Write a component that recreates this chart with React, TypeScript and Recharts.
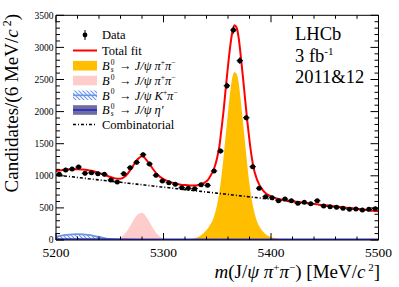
import { ComposedChart, Area, Line, Scatter, ErrorBar, XAxis, YAxis } from 'recharts'

const SERIF = '"Liberation Serif", "DejaVu Serif", serif'

// 6 MeV bins: centres and candidate counts
const binCenters = [
  5203, 5209, 5215, 5221, 5227, 5233, 5239, 5245, 5251, 5257,
  5263, 5269, 5275, 5281, 5287, 5293, 5299, 5305, 5311, 5317,
  5323, 5329, 5335, 5341, 5347, 5353, 5359, 5365, 5371, 5377,
  5383, 5389, 5395, 5401, 5407, 5413, 5419, 5425, 5431, 5437,
  5443, 5449, 5455, 5461, 5467, 5473, 5479, 5485, 5491, 5497,
]
const counts = [
  1023, 1090, 1106, 1137, 1039, 1048, 1033, 1023, 935, 903,
  1033, 1126, 1210, 1329, 1184, 1008, 919, 893, 868, 815,
  805, 800, 861, 851, 1075, 1386, 2403, 3271, 2793, 1905,
  1142, 805, 675, 659, 612, 639, 612, 571, 587, 565,
  612, 530, 519, 509, 494, 478, 483, 467, 478, 488,
]

// fit curves
const massGrid = [
  5200, 5205, 5210, 5215, 5220, 5225, 5230, 5235, 5240, 5245,
  5250, 5255, 5260, 5265, 5270, 5275, 5280, 5285, 5290, 5295,
  5300, 5305, 5310, 5315, 5320, 5325, 5330, 5335, 5340,
  5342, 5344, 5346, 5348, 5350, 5352, 5354, 5356, 5358, 5360,
  5362, 5364, 5366, 5368, 5370, 5372, 5374, 5376, 5378, 5380,
  5382, 5384, 5386, 5388, 5390, 5392,
  5395, 5400, 5405, 5410, 5415, 5420, 5425, 5430, 5435, 5440,
  5445, 5450, 5455, 5460, 5465, 5470, 5475, 5480, 5485, 5490, 5495, 5500,
]
const totalFit = [
  1075, 1088, 1097, 1102, 1103, 1098, 1087, 1070, 1045, 1015,
  985, 960, 955, 1000, 1110, 1240, 1305, 1230, 1110, 1010,
  950, 910, 885, 866, 855, 850, 850, 868, 915,
  950, 1010, 1070, 1160, 1290, 1460, 1740, 2030, 2380, 2710,
  3010, 3235, 3345, 3310, 3140, 2845, 2520, 2180, 1845, 1550,
  1300, 1110, 990, 900, 835, 785,
  730, 680, 648, 628, 615, 603, 592, 582, 571, 561,
  551, 542, 532, 522, 513, 503, 494, 484, 474, 465, 455, 446,
]
const combinatorial = [
  1012, 1003, 993, 984, 974, 965, 955, 946, 936, 927,
  918, 908, 899, 889, 880, 870, 861, 851, 842, 832,
  823, 814, 804, 795, 785, 776, 766, 757, 747,
  744, 740, 736, 733, 729, 725, 721, 717, 714, 710,
  706, 702, 699, 695, 691, 687, 684, 680, 676, 672,
  668, 664, 661, 657, 653, 649,
  644, 634, 625, 615, 606, 596, 587, 577, 568, 558,
  549, 540, 530, 521, 511, 502, 492, 483, 473, 464, 454, 445,
]
const bsPiPi = [
  0, 0, 0, 0, 0, 0, 0, 0, 0, 0,
  0, 0, 0, 0, 0, 0, 0, 0, 0, 0,
  1, 2, 3, 5, 8, 15, 30, 75, 155,
  200, 255, 320, 420, 560, 750, 1010, 1310, 1660, 1990,
  2300, 2530, 2615, 2590, 2440, 2150, 1830, 1490, 1160, 870,
  640, 470, 340, 250, 185, 140,
  90, 45, 22, 12, 8, 5, 4, 3, 2, 2,
  1, 1, 0, 0, 0, 0, 0, 0, 0, 0, 0, 0,
]
const b0PiPiMass = [5250, 5255, 5260, 5265, 5270, 5275, 5280, 5285, 5290, 5295, 5300, 5305, 5310, 5315]
const b0PiPi = [0, 10, 39, 116, 249, 383, 423, 336, 191, 78, 23, 5, 1, 0]
const b0KPiMass = [5200, 5205, 5210, 5215, 5220, 5225, 5230, 5235, 5240, 5245, 5250, 5255, 5260, 5265]
const b0KPi = [52, 68, 80, 88, 91, 88, 80, 66, 48, 28, 12, 4, 1, 0]
const bsEtaMass = [5200, 5250, 5300, 5350, 5400, 5450, 5500]
const bsEta = [14, 14, 13, 13, 12, 12, 11]

const massTicks = [5200, 5220, 5240, 5260, 5280, 5300, 5320, 5340, 5360, 5380, 5400, 5420, 5440, 5460, 5480, 5500]
const massLabels = [5200, 5300, 5400, 5500]
const countTicks = [
  0, 100, 200, 300, 400, 500, 600, 700, 800, 900, 1000, 1100, 1200, 1300, 1400, 1500, 1600, 1700,
  1800, 1900, 2000, 2100, 2200, 2300, 2400, 2500, 2600, 2700, 2800, 2900, 3000, 3100, 3200, 3300, 3400, 3500,
]
const countLabels = [0, 500, 1000, 1500, 2000, 2500, 3000, 3500]

const points = binCenters.map((m, i) => ({ m, n: counts[i], ey: Math.sqrt(counts[i]), ex: 3 }))

function pick(mass: number[], vals: number[], m: number) {
  const i = mass.indexOf(m)
  return i < 0 ? null : vals[i]
}

const curves = massGrid.map((m, i) => ({
  m,
  total: totalFit[i],
  comb: combinatorial[i],
  bs: bsPiPi[i],
  b0: pick(b0PiPiMass, b0PiPi, m),
  kpi: pick(b0KPiMass, b0KPi, m),
  eta: pick(bsEtaMass, bsEta, m),
}))

const YELLOW = '#ffbf00'
const PINK = '#ffcccc'
const HATCH = '#6b95e6'
const ETA_FILL = '#6e6ea0'
const ETA_LINE = '#3434c0'

const tickFont = { fontFamily: SERIF }

// inward ROOT-style ticks
function LeftTick({ x, y, payload }: any) {
  const major = countLabels.includes(payload.value)
  return (
    <g>
      <line x1={x} x2={x + (major ? 8 : 4)} y1={y} y2={y} stroke="#000" />
      {major && (
        <text x={x - 2.5} y={y + 3.3} textAnchor="end" fontSize={9.5} style={tickFont} fill="#000">
          {payload.value}
        </text>
      )}
    </g>
  )
}

function RightTick({ x, y, payload }: any) {
  const major = countLabels.includes(payload.value)
  return <line x1={x} x2={x - (major ? 8 : 4)} y1={y} y2={y} stroke="#000" />
}

function BottomTick({ x, y, payload }: any) {
  const major = massLabels.includes(payload.value)
  return (
    <g>
      <line x1={x} x2={x} y1={y} y2={y - (major ? 7 : 3.5)} stroke="#000" />
      {major && (
        <text x={x} y={y + 17} textAnchor="middle" fontSize={13.5} style={tickFont} fill="#000">
          {payload.value}
        </text>
      )}
    </g>
  )
}

function TopTick({ x, y, payload }: any) {
  const major = massLabels.includes(payload.value)
  return <line x1={x} x2={x} y1={y} y2={y + (major ? 7 : 3.5)} stroke="#000" />
}

function Overlay() {
  const fs = 12.5
  const sup = 7.5
  const tx = 102
  const rows = [35, 50.5, 65.7, 80.5, 95.3, 110, 124.5]
  const b = (c: number) => c + 4.3
  return (
    <svg width={399} height={287} style={{ position: 'absolute', left: 0, top: 0, pointerEvents: 'none', fontFamily: SERIF }}
      fill="#000">
      <defs>
        <pattern id="hatchLeg" width={4} height={4} patternUnits="userSpaceOnUse">
          <path d="M-1,-1 L5,5 M3,-1 L5,1 M-1,3 L1,5" stroke={HATCH} strokeWidth={1.1} />
        </pattern>
      </defs>

      {/* legend symbols */}
      <line x1={85} x2={85} y1={rows[0] - 5} y2={rows[0] + 5} stroke="#000" strokeWidth={1} />
      <circle cx={85} cy={rows[0]} r={2.4} fill="#000" />
      <line x1={73} x2={97} y1={rows[1]} y2={rows[1]} stroke="#ff0000" strokeWidth={2} />
      <rect x={73} y={rows[2] - 4.8} width={24} height={9.6} fill={YELLOW} />
      <rect x={73} y={rows[3] - 4.8} width={24} height={9.6} fill={PINK} />
      <rect x={73} y={rows[4] - 4.8} width={24} height={9.6} fill="url(#hatchLeg)" />
      <line x1={73} x2={97} y1={rows[4]} y2={rows[4]} stroke={HATCH} strokeWidth={1.6} />
      <rect x={73} y={rows[5] - 4.8} width={24} height={9.6} fill={ETA_FILL} />
      <line x1={73} x2={97} y1={rows[5]} y2={rows[5]} stroke={ETA_LINE} strokeWidth={2} />
      <line x1={73} x2={97} y1={rows[6]} y2={rows[6]} stroke="#000" strokeWidth={1.6} strokeDasharray="3 2 1 2" />

      {/* legend text */}
      <text x={tx} y={b(rows[0])} fontSize={fs}>Data</text>
      <text x={tx} y={b(rows[1])} fontSize={fs}>Total fit</text>

      <text x={tx} y={b(rows[2])} fontSize={fs} fontStyle="italic">B</text>
      <text x={tx + 8.7} y={b(rows[2]) - 5.5} fontSize={sup}>0</text>
      <text x={tx + 8.7} y={b(rows[2]) + 2} fontSize={sup} fontStyle="italic">s</text>
      <text x={tx + 17} y={b(rows[2])} fontSize={fs}>
        {'→ '}<tspan fontStyle="italic">J/ψ π</tspan>
        <tspan dy={-5} fontSize={sup}>+</tspan>
        <tspan dy={5} fontStyle="italic">π</tspan>
        <tspan dy={-5} fontSize={sup}>−</tspan>
      </text>

      <text x={tx} y={b(rows[3])} fontSize={fs} fontStyle="italic">B</text>
      <text x={tx + 8.7} y={b(rows[3]) - 5} fontSize={sup}>0</text>
      <text x={tx + 17} y={b(rows[3])} fontSize={fs}>
        {'→ '}<tspan fontStyle="italic">J/ψ π</tspan>
        <tspan dy={-5} fontSize={sup}>+</tspan>
        <tspan dy={5} fontStyle="italic">π</tspan>
        <tspan dy={-5} fontSize={sup}>−</tspan>
      </text>

      <text x={tx} y={b(rows[4])} fontSize={fs} fontStyle="italic">B</text>
      <text x={tx + 8.7} y={b(rows[4]) - 5.5} fontSize={sup}>0</text>
      <text x={tx + 17} y={b(rows[4])} fontSize={fs}>
        {'→ '}<tspan fontStyle="italic">J/ψ K</tspan>
        <tspan dy={-5} fontSize={sup}>+</tspan>
        <tspan dy={5} fontStyle="italic">π</tspan>
        <tspan dy={-5} fontSize={sup}>−</tspan>
      </text>

      <text x={tx} y={b(rows[5])} fontSize={fs} fontStyle="italic">B</text>
      <text x={tx + 8.7} y={b(rows[5]) - 5.5} fontSize={sup}>0</text>
      <text x={tx + 8.7} y={b(rows[5]) + 2} fontSize={sup} fontStyle="italic">s</text>
      <text x={tx + 17} y={b(rows[5])} fontSize={fs}>
        {'→ '}<tspan fontStyle="italic">J/ψ η′</tspan>
      </text>

      <text x={tx} y={b(rows[6]) + 0.5} fontSize={fs}>Combinatorial</text>

      {/* experiment label */}
      <text x={295} y={40} fontSize={18.5}>LHCb</text>
      <text x={295} y={62} fontSize={18.5}>
        3 fb<tspan dy={-7} fontSize={11}>-1</tspan>
      </text>
      <text x={295} y={83} fontSize={18.5}>2011&amp;12</text>

      {/* axis titles */}
      <text transform="translate(17.5,14) rotate(-90)" textAnchor="end" fontSize={19}>
        Candidates/(6 MeV/<tspan fontStyle="italic">c</tspan>
        <tspan dy={-7} fontSize={12}> 2</tspan>
        <tspan dy={7}>)</tspan>
      </text>
      <text x={380} y={278} textAnchor="end" fontSize={19}>
        <tspan fontStyle="italic">m</tspan>(J/<tspan fontStyle="italic">ψ π</tspan>
        <tspan dy={-7} fontSize={11}>+</tspan>
        <tspan dy={7} fontStyle="italic">π</tspan>
        <tspan dy={-7} fontSize={11}>−</tspan>
        <tspan dy={7}>) [MeV/</tspan>
        <tspan fontStyle="italic">c</tspan>
        <tspan dy={-7} fontSize={11}> 2</tspan>
        <tspan dy={7}>]</tspan>
      </text>
    </svg>
  )
}

export default function App() {
  return (
    <div style={{ position: 'absolute', left: 0, top: 0, width: 399, height: 287, background: '#fff' }}>
      <ComposedChart
        width={399}
        height={287}
        data={curves}
        margin={{ top: 14.3, right: 19.5, bottom: 46, left: 55 }}
      >
        <defs>
          <pattern id="hatchKpi" width={4} height={4} patternUnits="userSpaceOnUse">
            <path d="M-1,-1 L5,5 M3,-1 L5,1 M-1,3 L1,5" stroke={HATCH} strokeWidth={1.1} />
          </pattern>
        </defs>
        <XAxis
          dataKey="m"
          type="number"
          domain={[5200, 5500]}
          allowDataOverflow
          ticks={massTicks}
          interval={0}
          height={1}
          tickSize={0}
          tickMargin={0}
          tickLine={false}
          axisLine={{ stroke: '#000' }}
          tick={BottomTick}
        />
        <XAxis
          xAxisId="top"
          orientation="top"
          dataKey="m"
          type="number"
          domain={[5200, 5500]}
          allowDataOverflow
          ticks={massTicks}
          interval={0}
          height={1}
          tickSize={0}
          tickMargin={0}
          tickLine={false}
          axisLine={{ stroke: '#000' }}
          tick={TopTick}
        />
        <YAxis
          type="number"
          domain={[0, 3500]}
          allowDataOverflow
          ticks={countTicks}
          interval={0}
          width={1}
          tickSize={0}
          tickMargin={0}
          tickLine={false}
          axisLine={{ stroke: '#000' }}
          tick={LeftTick}
        />
        <YAxis
          yAxisId="right"
          orientation="right"
          type="number"
          domain={[0, 3500]}
          allowDataOverflow
          ticks={countTicks}
          interval={0}
          width={1}
          tickSize={0}
          tickMargin={0}
          tickLine={false}
          axisLine={{ stroke: '#000' }}
          tick={RightTick}
        />

        <Area dataKey="bs" type="monotone" stroke="none" fill={YELLOW} fillOpacity={1} isAnimationActive={false} connectNulls />
        <Area dataKey="b0" type="monotone" stroke="none" fill={PINK} fillOpacity={1} isAnimationActive={false} connectNulls />
        <Area dataKey="kpi" type="monotone" stroke={HATCH} strokeWidth={1.8} fill="url(#hatchKpi)" fillOpacity={1} isAnimationActive={false} connectNulls />
        <Area dataKey="eta" type="monotone" stroke={ETA_LINE} strokeWidth={1.5} fill={ETA_FILL} fillOpacity={1} isAnimationActive={false} connectNulls />
        <Line dataKey="comb" type="monotone" stroke="#000" strokeWidth={1.6} strokeDasharray="3 2 1 2" dot={false} isAnimationActive={false} />
        <Line dataKey="total" type="monotone" stroke="#ff0000" strokeWidth={2} dot={false} isAnimationActive={false} />
        <Scatter
          data={points}
          dataKey="n"
          isAnimationActive={false}
          shape={(p: any) => <circle cx={p.cx} cy={p.cy} r={2.5} fill="#000" />}
        >
          <ErrorBar dataKey="ey" direction="y" width={0} stroke="#000" strokeWidth={1} isAnimationActive={false} />
          <ErrorBar dataKey="ex" direction="x" width={0} stroke="#000" strokeWidth={1} isAnimationActive={false} />
        </Scatter>
      </ComposedChart>
      <Overlay />
    </div>
  )
}
